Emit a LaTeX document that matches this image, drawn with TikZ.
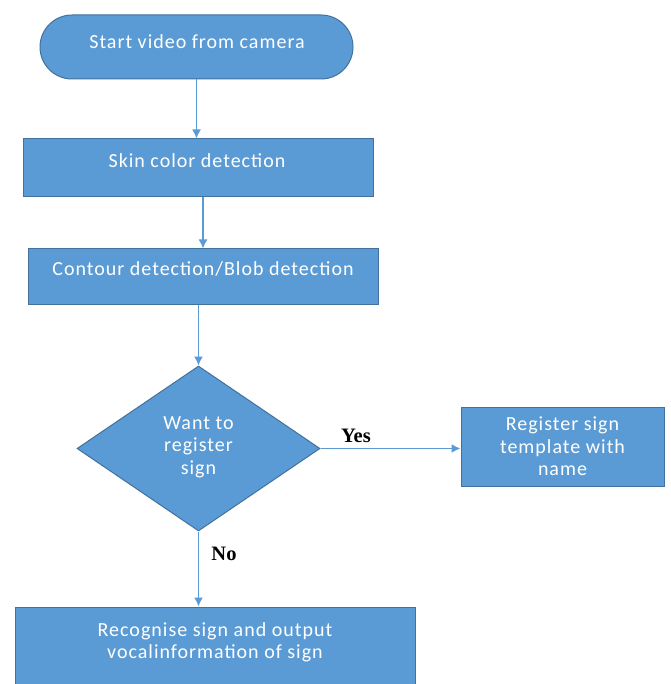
\documentclass[tikz,border=0pt]{standalone}
\usepackage{fontspec}
\setmainfont{Carlito}[LetterSpace=5]
\newfontfamily\serifyes{Liberation Serif}
\usetikzlibrary{shapes.geometric,arrows.meta,calc}
\definecolor{boxfill}{HTML}{5B9BD5}
\definecolor{boxline}{HTML}{41719C}
\definecolor{arrowc}{HTML}{5B9BD5}
\begin{document}
\begin{tikzpicture}[x=1pt,y=-1pt,
  shapebox/.style={draw=boxline, line width=1pt, fill=boxfill, inner sep=0pt},
  txt/.style={text=white, font=\fontsize{20}{22.5}\selectfont, align=center, inner sep=0pt},
  flow/.style={draw=arrowc, line width=1.5pt, -{Latex[length=9pt,width=9pt]}},
  lbl/.style={font=\serifyes\bfseries\fontsize{20.5}{22}\selectfont, text=black, inner sep=0pt}]
\clip (0,0) rectangle (670,684);
\useasboundingbox (0,0) rectangle (670,684);
\fill[white] (0,0) rectangle (670,684);
% shapes
\node[shapebox, rectangle, rounded corners=32pt, minimum width=313pt, minimum height=64pt] (start) at (196.5,47) {};
\node[txt] (starttxt) at (197,42) {Start video from camera};
\node[shapebox, rectangle, minimum width=350pt, minimum height=58pt] (skin) at (198,168) {};
\node[txt] (skintxt) at (197,161) {Skin color detection};
\node[shapebox, rectangle, minimum width=350pt, minimum height=55pt] (contour) at (203,276.5) {};
\node[txt] (contourtxt) at (203,269) {Contour detection/Blob detection};
\node[shapebox, diamond, minimum width=243pt, minimum height=165pt] (decide) at (198.5,448.5) {};
\node[txt] (decidetxt) at (198.5,447) {Want to\\register\\sign};
\node[shapebox, rectangle, minimum width=203pt, minimum height=79pt] (register) at (562.5,446.5) {};
\node[txt] (registertxt) at (562.5,446.5) {Register sign\\template with\\name};
\node[shapebox, rectangle, minimum width=400pt, minimum height=100pt] (recog) at (215,657) {};
\node[txt] (recogtxt) at (215,642.5) {Recognise sign and output\\vocalinformation of sign};
% connectors
\draw[flow] (start.south) -- (start.south |- skin.north);
\draw[flow] (contour.north |- skin.south) -- (contour.north);
\draw[flow] (decide.north |- contour.south) -- (decide.north);
\draw[flow] (decide.east) -- (decide.east -| register.west);
\draw[flow] (decide.south) -- (decide.south |- recog.north);
% labels
\node[lbl] (yes) at (356,436) {Yes};
\node[lbl] (no) at (224,554) {No};
\end{tikzpicture}
\end{document}
